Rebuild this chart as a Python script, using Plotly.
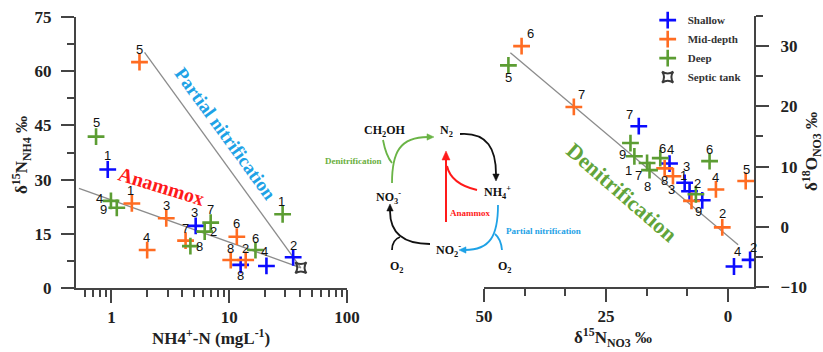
import numpy as np
import plotly.graph_objects as go

W, H = 823, 352

# ---------------- data: left panel (NH4+-N vs d15N-NH4) ----------------
shallow_nh4 = [0.93, 5.19, 12.5, 20.7, 34.9]
shallow_d15n_nh4 = [32.8, 17.2, 6.4, 6.1, 8.5]
shallow_ids_left = ["1", "3", "8", "4", "2"]

mid_nh4 = [1.73, 1.49, 2.92, 2.01, 4.26, 11.6, 10.3, 13.8]
mid_d15n_nh4 = [62.5, 23.4, 19.3, 10.5, 13.1, 14.2, 7.75, 7.75]
mid_ids_left = ["5", "1", "3", "4", "7", "6", "8", "2"]

deep_nh4 = [0.74, 0.99, 1.11, 6.96, 6.19, 4.68, 16.7, 28.4]
deep_d15n_nh4 = [41.9, 24.1, 22.2, 18.1, 15.6, 11.6, 10.5, 20.4]
deep_ids_left = ["5", "4", "9", "7", "2", "8", "6", "1"]

septic_nh4 = [40.6]
septic_d15n_nh4 = [5.6]

anammox_line_x = [0.53, 40.6]
anammox_line_y = [27.6, 5.6]
partial_nit_line_x = [1.91, 40.6]
partial_nit_line_y = [65.2, 5.6]

# ---------------- data: right panel (d15N-NO3 vs d18O-NO3) ----------------
shallow_d15n_no3 = [18.3, 12.0, 8.9, 7.9, 5.3, -1.2, -4.5]
shallow_d18o_no3 = [16.7, 10.5, 7.3, 5.9, 4.4, -6.6, -5.5]
shallow_ids_right = ["7", "4", "3", "1", "2", "4", "2"]

mid_d15n_no3 = [42.3, 31.6, 13.0, 11.3, 7.5, 2.5, 1.2, -3.6]
mid_d18o_no3 = [30.0, 19.9, 9.7, 8.4, 4.3, 6.2, -0.1, 7.6]
mid_ids_right = ["6", "7", "8", "3", "9", "4", "2", "5"]

deep_d15n_no3 = [45.0, 20.0, 19.2, 16.6, 16.1, 13.9, 6.6, 3.8]
deep_d18o_no3 = [26.8, 13.9, 11.7, 10.6, 9.4, 11.4, 5.4, 10.9]
deep_ids_right = ["5", "9", "1", "7", "8", "6", "", "6"]

denit_line_x = [44.6, -2.05]
denit_line_y = [28.9, -3.0]

# tick labels
x1_tickvals = [1, 10, 100]
y1_tickvals = [0, 15, 30, 45, 60, 75]
x2_tickvals = [50, 25, 0]
y2_tickvals = [-10, 0, 10, 20, 30]

# ---------------- styles ----------------
BLUE = "#0b0bff"
ORANGE = "#ff6c22"
GREEN = "#5c9d33"
DARK = "#3a3a3a"
AX = "#444444"
SERIF = "Liberation Serif, Times New Roman, serif"
SANS = "Liberation Sans, Arial, sans-serif"

# label offsets in pixels (dx right, dy down)
off_shallow_left = [(0, -14), (-1, -13), (0, 11), (-2, -14), (0, -12)]
off_mid_left = [(0, -13), (-1, -13), (0, -13), (-1, -13), (0, -12), (0, -13), (0, -12), (0, -12)]
off_deep_left = [(0, -14), (-11, -2), (-13, 2), (0, -13), (9, 0), (9, 0), (0, -12), (-1, -13)]
off_shallow_right = [(-9, -12), (1, -14), (2, -16), (-6, -16), (-5, -17), (4, -15), (3, -12)]
off_mid_right = [(9, -13), (8, -12), (0, 12), (-1, 13), (7, 11), (0, -12), (0, -14), (1, -12)]
off_deep_right = [(0, 12), (-8, 11), (-6, 14), (-9, 13), (-2, 16), (2, -10), (0, 0), (0, -12)]

fig = go.Figure()


def mk(c):
    return dict(symbol="cross-thin-open", size=12, color=c, line=dict(color=c, width=2.6))


LINE = dict(color="#8c8c8c", width=1.3)

# left panel
fig.add_trace(go.Scatter(x=anammox_line_x, y=anammox_line_y, mode="lines", line=LINE,
                         showlegend=False, hoverinfo="skip", xaxis="x", yaxis="y"))
fig.add_trace(go.Scatter(x=partial_nit_line_x, y=partial_nit_line_y, mode="lines", line=LINE,
                         showlegend=False, hoverinfo="skip", xaxis="x", yaxis="y"))
fig.add_trace(go.Scatter(x=shallow_nh4, y=shallow_d15n_nh4, mode="markers", name="Shallow",
                         marker=mk(BLUE), legendgroup="s", xaxis="x", yaxis="y"))
fig.add_trace(go.Scatter(x=mid_nh4, y=mid_d15n_nh4, mode="markers", name="Mid-depth",
                         marker=mk(ORANGE), legendgroup="m", xaxis="x", yaxis="y"))
fig.add_trace(go.Scatter(x=deep_nh4, y=deep_d15n_nh4, mode="markers", name="Deep",
                         marker=mk(GREEN), legendgroup="d", xaxis="x", yaxis="y"))
fig.add_trace(go.Scatter(x=septic_nh4, y=septic_d15n_nh4, mode="markers", name="Septic tank",
                         marker=dict(symbol="star-square-open", size=10, color=DARK,
                                     line=dict(color=DARK, width=2)),
                         xaxis="x", yaxis="y"))

# right panel
fig.add_trace(go.Scatter(x=denit_line_x, y=denit_line_y, mode="lines", line=LINE,
                         showlegend=False, hoverinfo="skip", xaxis="x2", yaxis="y2"))
fig.add_trace(go.Scatter(x=shallow_d15n_no3, y=shallow_d18o_no3, mode="markers", name="Shallow",
                         marker=mk(BLUE), legendgroup="s", showlegend=False, xaxis="x2", yaxis="y2"))
fig.add_trace(go.Scatter(x=mid_d15n_no3, y=mid_d18o_no3, mode="markers", name="Mid-depth",
                         marker=mk(ORANGE), legendgroup="m", showlegend=False, xaxis="x2", yaxis="y2"))
fig.add_trace(go.Scatter(x=deep_d15n_no3, y=deep_d18o_no3, mode="markers", name="Deep",
                         marker=mk(GREEN), legendgroup="d", showlegend=False, xaxis="x2", yaxis="y2"))

annotations = []


def add_labels(xs, ys, ids, offs, xref, yref, logx=False):
    for xv, yv, t, (dx, dy) in zip(xs, ys, ids, offs):
        if not t:
            continue
        annotations.append(dict(x=np.log10(xv) if logx else xv, y=yv, xref=xref, yref=yref, text=t,
                                showarrow=False, xshift=dx, yshift=-dy,
                                font=dict(family=SANS, size=13, color="#111111")))


add_labels(shallow_nh4, shallow_d15n_nh4, shallow_ids_left, off_shallow_left, "x", "y", True)
add_labels(mid_nh4, mid_d15n_nh4, mid_ids_left, off_mid_left, "x", "y", True)
add_labels(deep_nh4, deep_d15n_nh4, deep_ids_left, off_deep_left, "x", "y", True)
add_labels(shallow_d15n_no3, shallow_d18o_no3, shallow_ids_right, off_shallow_right, "x2", "y2")
add_labels(mid_d15n_no3, mid_d18o_no3, mid_ids_right, off_mid_right, "x2", "y2")
add_labels(deep_d15n_no3, deep_d18o_no3, deep_ids_right, off_deep_right, "x2", "y2")


def P(x, y):
    return x / W, 1 - y / H


def ptxt(x, y, text, size, color="#111111", angle=0, family=SERIF, bold=True):
    px_, py_ = P(x, y)
    annotations.append(dict(x=px_, y=py_, xref="paper", yref="paper", text=text, showarrow=False,
                            textangle=angle, xanchor="center", yanchor="middle",
                            font=dict(family=family, size=size, color=color,
                                      weight="bold" if bold else "normal")))


# process labels along lines
ptxt(225, 134, "Partial nitrification", 19, "#1ea2e6", 54)
ptxt(161, 186, "Anammox", 20, "#ff1a1a", 17)
ptxt(622, 192, "Denitrification", 22, "#62a43a", 41)

# axis titles
ptxt(21, 155, "δ<sup>15</sup>N<sub>NH4</sub> ‰", 17, "#222222", -90)
ptxt(211, 337, "NH4<sup>+</sup>-N (mgL<sup>-1</sup>)", 17, "#222222")
ptxt(613, 337, "δ<sup>15</sup>N<sub>NO3</sub> ‰", 17, "#222222")
ptxt(811, 152, "δ<sup>18</sup>O<sub>NO3</sub> ‰", 17, "#222222", -90)

# cycle diagram texts
ptxt(385, 131, "CH<sub>2</sub>OH", 12)
ptxt(446, 131, "N<sub>2</sub>", 12)
ptxt(388, 197, "NO<sub>3</sub><sup>-</sup>", 12)
ptxt(497, 192, "NH<sub>4</sub><sup>+</sup>", 12)
ptxt(449, 250, "NO<sub>2</sub><sup>-</sup>", 12)
ptxt(397, 267, "O<sub>2</sub>", 12)
ptxt(505, 267, "O<sub>2</sub>", 12)
ptxt(353, 161, "Denitrification", 9, "#6aaf40")
ptxt(470, 213, "Anammox", 9, "#ff1a1a")
ptxt(543, 231, "Partial nitrification", 9, "#1ea2e6")

shapes = []


def curve(pts, color, width=1.8):
    s = ""
    for cmd, coords in pts:
        s += cmd + " " + " ".join("%.5f,%.5f" % P(*c) for c in coords) + " "
    shapes.append(dict(type="path", xref="paper", yref="paper", path=s.strip(),
                       line=dict(color=color, width=width)))


def head(x, y, ang, color, L=7, w=3.2):
    a = np.radians(ang)
    d = np.array([np.cos(a), np.sin(a)])
    n = np.array([-d[1], d[0]])
    tip = np.array([x, y])
    b1 = tip - L * d + w * n
    b2 = tip - L * d - w * n
    s = "M %.5f,%.5f L %.5f,%.5f L %.5f,%.5f Z" % (*P(*tip), *P(*b1), *P(*b2))
    shapes.append(dict(type="path", xref="paper", yref="paper", path=s,
                       fillcolor=color, line=dict(color=color, width=0.5)))


G2 = "#6ab446"
# green: NO3- -> N2 with CH2OH input
curve([("M", [(392, 183)]), ("C", [(392, 152), (400, 137), (428, 137)])], G2)
curve([("M", [(383, 140)]), ("Q", [(386, 156), (392, 163)])], G2)
head(434, 137, 0, G2)
# black: N2 -> NH4+
curve([("M", [(460, 134)]), ("C", [(488, 132), (496, 150), (496, 174)])], "#111111")
head(496, 181, 90, "#111111")
# red: NH4+ -> N2 (anammox)
curve([("M", [(446, 222)]), ("L", [(446, 158)])], "#ff1a1a", 2)
curve([("M", [(477, 190)]), ("Q", [(451, 184), (447, 166)])], "#ff1a1a", 2)
head(446, 151, -90, "#ff1a1a", 9, 4)
# blue: NH4+ -> NO2- with O2 input
curve([("M", [(498, 205)]), ("C", [(498, 236), (490, 250), (465, 250)])], "#1ea2e6")
curve([("M", [(502, 250)]), ("Q", [(501, 239), (495, 234)])], "#1ea2e6")
head(459, 250, 180, "#1ea2e6")
# black: NO2- -> NO3- with O2 input
curve([("M", [(430, 244)]), ("C", [(402, 244), (390, 232), (390, 211)])], "#111111")
curve([("M", [(392, 250)]), ("Q", [(392, 240), (400, 237)])], "#111111")
head(390, 204, -90, "#111111")

tickfont = dict(family=SERIF, size=17, color="#222222", weight="bold")
log_minor = [0.6, 0.7, 0.8, 0.9] + list(range(2, 10)) + list(range(20, 100, 10))
common = dict(ticks="outside", ticklen=13, tickwidth=2, tickcolor=AX, showline=True, linecolor=AX,
              linewidth=2, showgrid=False, zeroline=False, tickfont=tickfont, automargin=False)

fig.update_layout(
    template="none",
    width=W, height=H, autosize=False,
    margin=dict(l=0, r=0, t=0, b=0, pad=0),
    paper_bgcolor="white", plot_bgcolor="white",
    showlegend=True,
    legend=dict(x=0.787, y=0.984, xanchor="left", yanchor="top", bgcolor="rgba(0,0,0,0)",
                font=dict(family=SERIF, size=11, color="#333333", weight="bold"),
                tracegroupgap=0, itemwidth=30),
    xaxis=dict(type="log", domain=[76 / W, 347 / W], range=[np.log10(0.5), 2], anchor="y",
               tickmode="array", tickvals=x1_tickvals, ticktext=[str(v) for v in x1_tickvals],
               minor=dict(tickmode="array", tickvals=log_minor, ticks="outside", ticklen=7,
                          tickwidth=2, tickcolor=AX, showgrid=False),
               ticklabelstandoff=0, **common),
    yaxis=dict(domain=[1 - 288 / H, 1 - 17 / H], range=[0, 75], anchor="x",
               tickmode="array", tickvals=y1_tickvals,
               minor=dict(dtick=7.5, tick0=0, ticks="outside", ticklen=7, tickwidth=2,
                          tickcolor=AX, showgrid=False),
               ticklabelstandoff=6, **common),
    xaxis2=dict(domain=[484 / W, 754 / W], range=[50, -5.3], anchor="y2",
                tickmode="array", tickvals=x2_tickvals,
                minor=dict(dtick=25 / 3, tick0=0, ticks="outside", ticklen=7, tickwidth=2,
                           tickcolor=AX, showgrid=False),
                ticklabelstandoff=0, **common),
    yaxis2=dict(domain=[1 - 287 / H, 1 - 16 / H], range=[-10, 35], anchor="x2", side="right",
                tickmode="array", tickvals=y2_tickvals,
                minor=dict(dtick=5, tick0=0, ticks="outside", ticklen=7, tickwidth=2,
                           tickcolor=AX, showgrid=False),
                ticklabelstandoff=8, **common),
    annotations=annotations,
    shapes=shapes,
)

fig.write_html("out.html", config={"displayModeBar": False},
               post_script="document.body.style.margin='0px';")
